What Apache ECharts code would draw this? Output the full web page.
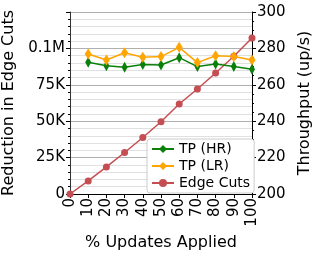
<!DOCTYPE html>
<html><head><meta charset="utf-8">
<script src="https://cdn.jsdelivr.net/npm/echarts@6/dist/echarts.min.js"></script>
<style>html,body{margin:0;padding:0;background:#fff}#c{width:314px;height:256px}</style>
</head><body><div id="c"></div>
<script>
var edgeX = [0, 10, 20, 30, 40, 50, 60, 70, 80, 90, 100];
var edgeCuts = [0, 9000, 18600, 28500, 38800, 49600, 61800, 72100, 83100, 94600, 107200];
var tpX = [10, 20, 30, 40, 50, 60, 70, 80, 90, 100];
var tpHR = [272.4, 270.5, 269.6, 271.1, 270.9, 274.9, 270.0, 271.4, 270.0, 268.5];
var tpLR = [276.9, 273.6, 277.6, 275.1, 275.5, 280.6, 272.2, 276.0, 275.5, 273.6];
var leftTicks = {0: '0', 25000: '25K', 50000: '50K', 75000: '75K', 100000: '0.1M'};

function pairs(xs, ys) { return xs.map(function (x, i) { return [x, ys[i]]; }); }
var F = 'DejaVu Sans';
var chart = echarts.init(document.getElementById('c'), null, {renderer: 'canvas'});
chart.setOption({
  animation: false,
  grid: {left: 70, right: 62, top: 12, bottom: 62, show: false, containLabel: false, outerBoundsMode: 'none'},
  legend: {
    orient: 'vertical', left: 147, top: 139,
    backgroundColor: '#fff', borderColor: '#cccccc', borderWidth: 1, borderRadius: 3,
    padding: [3, 4, 3, 4], itemGap: 3, itemWidth: 22, itemHeight: 10,
    textStyle: {fontFamily: F, fontSize: 14, color: '#000'},
    data: ['TP (HR)', 'TP (LR)', 'Edge Cuts']
  },
  xAxis: {
    type: 'value', min: 0, max: 100, interval: 10,
    name: '% Updates Applied', nameLocation: 'middle', nameGap: 40,
    nameTextStyle: {fontFamily: F, fontSize: 16, color: '#000'},
    axisLine: {show: true, lineStyle: {color: '#000', width: 1}},
    axisTick: {show: true, length: 4, lineStyle: {color: '#000'}},
    axisLabel: {rotate: 90, fontFamily: F, fontSize: 15, color: '#000', margin: 4},
    splitLine: {show: false}
  },
  yAxis: [{
    type: 'value', min: 0, max: 125000, interval: 25000, position: 'left',
    name: 'Reduction in Edge Cuts', nameLocation: 'middle', nameGap: 45,
    nameTextStyle: {fontFamily: F, fontSize: 16, color: '#000'},
    axisLine: {show: true, lineStyle: {color: '#333', width: 1}},
    axisTick: {show: true, length: 4, lineStyle: {color: '#000'}},
    minorTick: {show: true, splitNumber: 5, length: 2, lineStyle: {color: '#000'}},
    axisLabel: {fontFamily: F, fontSize: 15, color: '#000', margin: 5,
      formatter: function (v) { return leftTicks[v] !== undefined ? leftTicks[v] : ''; }},
    splitLine: {show: true, lineStyle: {color: '#b0b0b0', width: 1}},
    minorSplitLine: {show: true, lineStyle: {color: '#e0e0e0', width: 1}}
  }, {
    type: 'value', min: 200, max: 300, interval: 20, position: 'right',
    name: 'Throughput (up/s)', nameLocation: 'middle', nameGap: 38,
    nameTextStyle: {fontFamily: F, fontSize: 16, color: '#000'},
    axisLine: {show: true, lineStyle: {color: '#000', width: 1}},
    axisTick: {show: true, length: 4, lineStyle: {color: '#000'}},
    minorTick: {show: true, splitNumber: 4, length: 2, lineStyle: {color: '#000'}},
    axisLabel: {fontFamily: F, fontSize: 15, color: '#000', margin: 5},
    splitLine: {show: false}
  }],
  series: [{
    name: 'TP (HR)', type: 'line', yAxisIndex: 1, data: pairs(tpX, tpHR),
    color: '#0a800a', symbol: 'diamond', symbolSize: [6, 11],
    lineStyle: {width: 1.5}, z: 3
  }, {
    name: 'TP (LR)', type: 'line', yAxisIndex: 1, data: pairs(tpX, tpLR),
    color: '#ffa500', symbol: 'diamond', symbolSize: [7, 11],
    lineStyle: {width: 1.5}, z: 3
  }, {
    name: 'Edge Cuts', type: 'line', yAxisIndex: 0, data: pairs(edgeX, edgeCuts),
    color: '#c44e52', symbol: 'circle', symbolSize: 7,
    lineStyle: {width: 1.5}, z: 2
  }]
});
</script></body></html>
